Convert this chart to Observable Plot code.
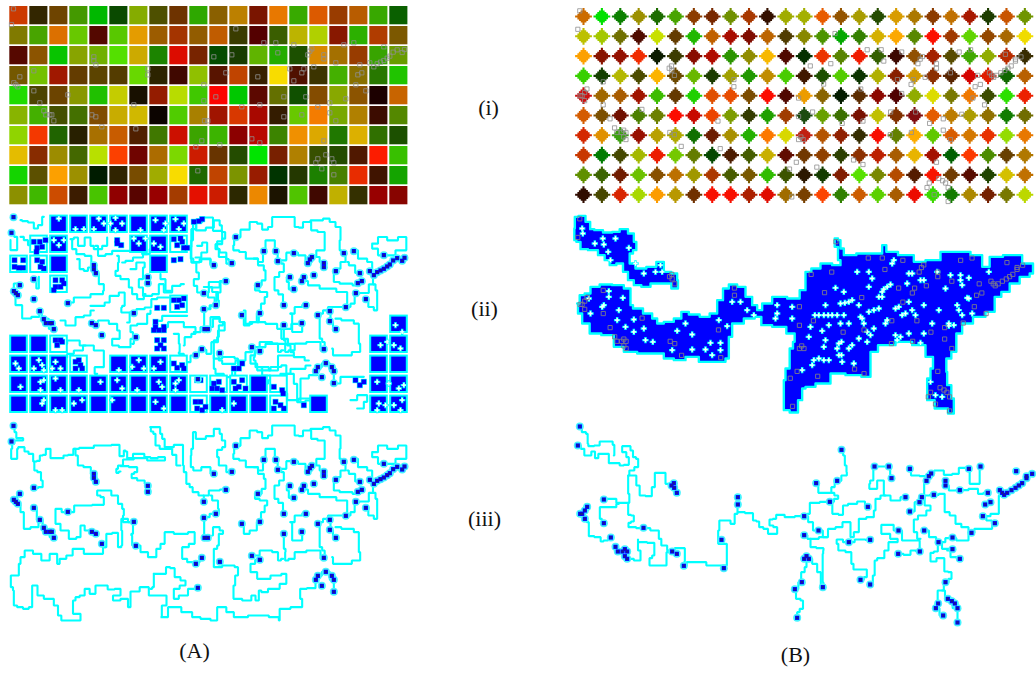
<!DOCTYPE html>
<html><head><meta charset="utf-8">
<style>html,body{margin:0;padding:0;background:#fff}svg{display:block}</style>
<script src="https://cdn.jsdelivr.net/npm/d3@7"></script>
<script src="https://cdn.jsdelivr.net/npm/@observablehq/plot@0.6"></script>
</head><body><script>
const heatA = [
"cc3a00 332600 6e4400 449900 00b800 0a4a00 85ac00 4e5000 6e3300 2ea800 8a6000 bc8000 7a1500 e87800 38aa00 dc5a00 993c00 b85c00 38a800 0a6000",
"807a00 48a400 dc7000 68c800 540800 58c800 e49c00 9c5c00 a43400 925c00 c05c00 3a3c00 540000 3a5e00 bcb400 b0d000 881800 2cb000 b03c00 7c5800",
"560800 8c5400 08c400 88a400 70b000 54e000 ccaa00 1c8400 dc0c00 782400 044c00 183c00 60b400 24ac00 1c5000 d88800 a47000 983c00 38a400 689c00",
"745800 74c000 a01800 643c00 5c4400 543c00 68d800 2c2400 400800 90c000 581400 c04400 382000 f8dc00 501000 3c3400 44b000 887000 287800 20c400",
"20dc00 4c4400 6c4400 889800 20c000 c4cc00 181000 941c00 b8dc00 40c800 fc0400 00c800 5c0800 647000 105000 844c00 88a800 8c5400 1c0000 c86400",
"88b400 44b000 445000 447000 804c00 c8ac00 d0b800 0c0400 50cc00 a88000 a01400 d83800 a80800 341c00 68c800 f47c00 78a800 b08000 3c0c00 548800",
"90d400 f43800 206400 282000 a87000 c85c00 502000 407800 cc1000 3ca400 3cb400 8c0000 b80800 3c8400 f09000 dca800 207800 dcb000 307000 1c5000",
"e4bc00 882c00 9c8c00 446800 b8e000 fc4000 700400 ac6c00 7cd800 cc1c00 683400 244c00 00e400 782000 b08000 385000 244c00 501800 fc1c00 38c000",
"14d400 5c5000 fca000 9c9000 001c00 302400 784c00 a0ac00 f8dc00 206800 c04400 7c9400 981c00 003400 243800 1c8000 488000 e82c00 401400 14a400",
"8c9000 40b800 cc4c00 3c1c00 48c400 900000 580400 980000 a43c00 e41000 cc1c00 2c2800 ec8800 1c1400 50c400 400800 c0b000 343000 980000 880400"];
const heatB = [
"cc6c00 00e000 0c8000 9c9000 1c6c00 48a400 8c3c00 782800 709000 a83800 341000 a0ac00 a4b000 e85c00 945400 a89c00 244c00 d89c00 ac7800 8c3c00 c07000 a81800 1c3c00 c85400 709400",
"bcc000 a4c800 707000 500c00 c8e000 643c00 20b800 c06000 a80c00 800c00 bc6400 503c00 888800 4c9400 04a800 348000 d4b000 fca800 588800 fc1000 a03800 60d400 944800 a86800 f0dc00",
"fca000 881400 941000 f02c00 0c1c00 3c3c00 880c00 b00c00 2c9400 908c00 f8b800 500800 043000 ec3400 588400 f01c00 346000 3c0800 905000 a42000 584c00 40a800 90ac00 b82c00 382c00",
"38d000 144000 b4b800 4c4c00 fcb400 6c4800 68b800 1c3c00 a0a000 209800 c08c00 48cc00 401800 1c5000 54cc00 0c3400 b0b000 882000 d09800 8c3000 582400 d40400 e01c00 106800 b86000",
"cc1010 a06800 a85c00 a01400 3cbc00 643800 20d000 e05000 e84c00 7c4c00 fc0c00 500800 ec9c00 886400 041c00 5c2c00 8c0800 500000 90ac00 dcdc00 787800 f07800 3c4c00 2ce000 ec2000",
"d45c00 7c5000 701000 4c8000 6c8000 fc0c00 c80800 ec4400 7c9c00 343c00 20a000 a03c00 1c4c10 68a000 3c7000 781000 c0c000 803000 800c10 e45c00 bc7c00 ac9c00 907000 107c00 706c00",
"d42800 e09000 3ca010 981000 b8a000 b0a800 107000 6c1c00 a89000 24b000 fc7800 d8d800 c02010 b45400 902000 342c00 f80c00 648000 fcac00 60c800 d85c00 d47800 e83000 94dc00 e87800",
"c83800 007c00 444800 a4b800 ec1c00 74c800 647c00 044800 4c1c00 445c00 c8b000 600c00 703800 904000 2c4000 8c3000 bc2000 a85c00 e8b400 a41000 006000 fc3800 4c8c00 684000 b07800",
"609000 3c6400 701c00 6cc000 885000 bc7000 a09800 ac3800 485c00 785800 30bc00 3c5400 2c1800 143c00 801c00 58e000 788800 b44c00 541c00 f81400 703c00 580c00 204400 d4c000 c07000",
"300c00 484800 d82400 a8d800 fc9c00 b89800 703000 f81000 f81000 ac2000 e00c00 a06c00 784000 fc4400 308000 cc5c00 5cd000 a85c00 ec0c00 3cd800 147c00 ac8800 742000 787800 bcd800"];

// marked points, read at 3x from panel (i) of A
const ptsA = "39,25 33,72 706,85 790,127 826,127 880,133 1030,133 1060,127 1150,139 934,145 928,152 922,163 970,163 970,175 832,157 694,163 640,169 280,169 280,181 286,193 1006,187 1078,193 1108,187 1120,199 1130,190 1140,185 1150,180 1160,173 1168,167 1178,155 1190,148 1205,156 1212,147 100,211 58,229 40,247 46,253 52,259 442,205 442,223 676,217 772,229 868,205 910,205 904,217 940,199 1084,217 1072,223 880,241 610,253 1066,253 100,271 1096,271 202,283 646,289 850,289 916,289 610,301 1036,295 988,307 118,307 400,313 724,319 778,313 952,319 130,331 136,343 154,343 160,361 148,343 274,343 286,349 904,343 850,349 988,337 1006,361 612,361 622,361 304,379 406,385 754,415 778,427 604,421 586,439 658,433 970,421 976,463 994,475 952,475 946,487 1000,487 964,505 1000,523 592,511";
// marked points, read at 3x from panel (iii) of B
const ptsB = "43,33 37,90 828,103 927,153 970,153 1033,160 1097,174 1090,182 1083,196 1140,196 1140,210 1210,160 1245,153 1352,167 978,188 815,196 752,203 1400,175 1383,182 1383,188 1370,203 1360,210 1350,217 1338,224 1325,232 1316,238 1303,224 1310,232 325,203 318,210 326,217 334,232 1183,224 1267,232 1020,245 1105,238 1069,245 517,245 517,267 115,252 793,259 1062,260 907,274 65,274 58,285 44,295 50,295 58,310 1259,267 1275,260 1033,288 1252,302 716,302 115,323 1288,323 234,337 999,345 759,345 1076,345 1218,352 716,359 136,366 1161,366 468,373 1119,380 850,380 914,373 150,394 157,408 171,408 178,401 185,408 178,422 185,430 320,408 334,415 1063,408 998,415 1161,401 1183,430 355,451 475,458 723,422 716,430 730,430 885,493 914,507 1140,500 709,500 772,515 688,521 1147,550 1118,564 1159,557 1168,564 1176,578 1111,578 1133,600 1176,621 695,607";

// cyan trees of A shared by (ii) and (iii), in the (iii) crop
const treeAshared = [
"580,50 575,100 570,120 572,155 585,165 620,155 640,175","580,50 592,70 640,62 640,40 655,40 660,55 668,75 680,95 650,103 650,125 660,150 695,170",
"610,240 640,225 676,222","630,240 640,255 665,280 645,295 610,305 612,365",
"705,91 735,68 760,45 780,50 790,68 815,60 815,30 880,30 885,60 905,62 910,45 950,40 985,35 990,45 1020,60 1020,100 1015,130 1030,138",
"932,45 932,70 970,75 975,120 970,130 950,130 945,150 970,165","705,91 697,115 700,130 732,135 740,155 760,155 785,165 790,135",
"790,130 800,100 818,100 828,130 835,165 850,170 850,195 822,210 822,250 845,262 850,290","835,160 880,137 905,145 925,165 935,150",
"760,155 785,175 795,190 795,220 772,235 755,250 800,255 800,270 785,290 778,320 760,345 735,355 725,325",
"868,210 850,225 880,247","905,222 940,235 975,245 1040,255 1040,300 1060,290 1065,260 1090,258 1120,232 1130,250 1130,310 1110,300 1097,275",
"1115,110 1150,90 1170,100 1215,90 1220,130 1150,145 1115,125 1115,110","1060,130 1085,155 1115,165 1115,195 1120,232",
"1030,138 1040,165 1000,185 1005,192 995,225 1040,230 1072,235","1078,198 1050,175 1040,165",
"1036,300 990,300 975,310 960,320 955,395 975,405 970,430","990,315 990,345 1005,370","1005,335 1040,340 1080,350 1070,410 1088,435 1020,445 1000,445 995,425",
"870,320 880,375 905,375 905,348","870,320 895,300 916,293","850,355 850,400 860,410 848,435 880,430 885,410 950,405 970,430",
"755,420 800,405 830,410 835,435 848,430","778,433 750,445 750,470 790,490 830,480 855,475 860,505 815,520 790,530 775,525 775,555 755,540 750,555 700,550 698,510 710,480 715,455 690,450 640,455 640,400 660,390 650,375 660,355 675,345 640,335 635,360",
"952,481 976,469 1000,493 1000,529","946,493 952,481"
];
// cyan trees of A only in (iii)
const treeAiii = [
"39,31 45,50 50,68 68,68 68,75 45,75 38,85 32,100 32,130 50,130 50,100 56,95 72,95 72,108 96,115 100,138 118,136 118,120 136,118 136,100 150,100 150,128 188,128 190,120 215,118 222,100 250,97 310,90 356,88 358,122 370,122 370,105 380,108 380,128 415,115 448,125 452,128 492,125 495,135 455,135 425,128 375,132 360,150 345,160 350,172 360,168",
"222,100 228,120 236,150 262,155 280,175 280,187 286,199","100,138 103,165 118,170 125,195 128,215 100,217","360,152 410,155 410,170 392,175 395,188 425,195 440,205 442,230",
"450,35 478,35 480,55 490,70 495,95 545,88 550,120 545,150 555,170 560,205 575,215 578,230 610,240 610,260","450,35 452,48 465,55 465,90 490,100 515,100 515,118 540,150",
"400,320 395,355 390,360 400,390 440,410 445,425 465,425 470,400 490,385 495,350 545,355 580,350 585,385 545,395 545,430 575,440 587,445","605,428 590,440",
"400,320 365,310 360,345 370,390 355,395 350,352 320,355 315,395 304,385","315,395 300,415 260,415 240,400 218,400 215,420 180,430 175,445 165,415 130,435 115,415 80,405 65,425 55,445 55,480 32,480 30,515 45,525 35,570 65,575 70,580 100,575 90,530 100,510 112,510 110,540 150,550 170,570 175,600 190,615 240,615 240,595 210,595 225,555 225,545 250,540 255,520 280,535 290,510 318,510 325,522 360,520 360,540 335,540 340,555 380,550 385,575 395,528 440,515 450,540 498,540 498,570 470,605 490,605 515,575 570,590 580,605 620,610 640,615 660,575 695,590 705,605 780,600 830,605 840,615 835,580 905,575 905,550 893,520 945,518 945,495",
"460,475 495,475 498,455 520,458 525,485 555,495 555,510 520,520 520,550 550,540 575,520 592,518","460,475 460,515 450,520",
"202,290 165,280 165,325 195,345 215,370 240,365 240,330 265,345 286,355","202,290 240,270 310,268 310,245 290,240 290,225 310,225 355,240 350,265 380,280 360,300 375,320 400,320",
"60,235 40,255 50,268 70,290 70,340 110,335 118,313 100,277","118,313 135,345 160,365 154,349"
];
// cyan trees of A only in (ii), in the whole-panel (ii) crop
const treeAii = [
"60,35 70,38 95,42 105,60 120,50 130,25","32,75 50,85 50,125 30,125 30,95","60,85 80,95 85,110","100,217 115,240 115,205","50,225 30,250 60,290 70,330 115,325 118,307","118,307 130,331 160,361",
"1000,525 1040,505 1090,505","1050,575 1090,560 1110,580 1070,600","900,575 900,510 950,500","860,555 860,575 930,570"
];
// more of (ii), from the crop with its corner at (60,212)
const treeAiiTop = [
"30,80 50,75 55,100 90,75 90,100 110,110 140,100 140,75","35,80 35,110 60,125 85,130 100,160 105,185 125,215 135,235 120,245 60,255 20,270","50,140 65,170 75,175 90,165",
"105,100 120,130 150,125 160,115 230,115 260,125","170,130 180,150 165,175 165,190 195,200 215,225 215,245 245,260 255,245","185,150 205,145 230,135 265,125 270,110",
"210,170 245,150 260,165 235,200 235,225 260,250 290,245 300,215 320,240 350,220 370,215","300,185 300,200 330,235","395,50 390,100 395,150 420,180 410,200 390,220 430,240 460,225 495,207","395,150 440,140 460,155",
"400,50 415,30 435,15 480,55 490,95 470,95 460,110 495,120 500,140 510,145","410,100 440,90 440,120 405,135","430,240 455,255 470,280 430,290","495,207 465,240 470,280",
"90,280 130,280 135,270 160,250 190,240 195,280 175,285 190,300 215,300 240,290 265,285 280,260 300,255 325,255","215,300 200,330","280,325 330,310 380,310"
];
// more of (ii), from the crop with its corner at (60,310)
const treeAiiLow = [
"0,30 30,45 60,20 80,15 100,0","95,40 130,30 160,40 180,60 175,85 155,85 155,105 195,110 225,85 210,65 210,45 250,40 270,10 270,0","225,80 215,100","305,50 340,35 400,50 410,70 375,80 370,105","340,70 370,100 345,125 365,130 375,155 405,135","405,135 425,118 450,130 455,95 490,60 495,35 460,20 440,50 400,65",
"0,100 40,90 75,105 125,120 135,150 125,170 95,170 110,190","75,105 60,120 20,130 20,140","480,130 470,150 500,160 550,150 560,125 590,110 640,100 660,100 700,105 680,125 720,140 745,150","575,115 590,140 570,150 600,170 650,180 655,135 700,135","460,135 460,175 470,190 510,200 520,180","600,170 610,195 650,210 660,235 640,225","680,190 720,220 700,260 720,275 750,270","550,0 560,40 590,35 600,10","590,35 640,40 660,55 665,85 700,100","660,55 725,40","660,190 720,175 750,165"
];

// cells of A filled in (ii): "column,row"
const fullA = "2,0 3,0 4,0 5,0 6,0 7,0 8,0 2,1 6,1 7,1 2,2 7,2 19,5 0,6 1,6 18,6 19,6 0,7 1,7 2,7 5,7 6,7 7,7 18,7 19,7 0,8 1,8 2,8 3,8 4,8 5,8 6,8 7,8 8,8 12,8 18,8 19,8 0,9 1,9 2,9 3,9 4,9 5,9 6,9 7,9 8,9 10,9 11,9 12,9 15,9 18,9 19,9";
const outlineA = "9,8 10,8 11,8 13,8 9,9 13,9 1,1 0,2 1,2 2,3 8,1 8,4 3,7 2,6 8,7";
const blobsA = "580,40 595,38 605,32 100,100 118,100 135,95 110,118 125,115 108,130 350,95 362,110 350,105 520,92 545,100 530,110 550,118 560,118 540,90 42,155 68,155 42,175 68,178 55,178 110,155 125,160 120,175 130,180 520,155 540,152 165,215 185,215 165,235 180,235 190,225 160,245 520,275 535,275 550,270 545,290 530,295 470,298 490,298 465,340 465,355 490,355 490,365 475,365 460,365 470,395 490,395 480,410 470,420 490,420 225,460 235,455 240,470 225,480 245,480 520,465 530,478 545,470 550,480 590,515 600,515 640,525 655,520 650,540 635,540 665,545 700,520 715,535 725,515 735,540 705,540 820,535 845,545 848,555 1065,515 1090,520 1078,530 585,580 600,580 615,595 590,600 605,605 825,580 840,590 850,600 820,600 700,480 725,465 715,480 165,395 180,395 170,410 185,400 910,590";
const holesA = "175,30 225,62 250,62 295,30 280,62 310,45 345,28 345,65 330,45 365,45 420,65 465,35 495,45 490,65 525,32 550,45 535,62 175,110 160,95 190,95 415,105 435,90 400,90 480,115 460,105 45,465 55,480 115,455 125,470 100,480 130,485 165,460 180,480 155,480 355,485 415,455 395,475 430,480 480,460 460,480 60,535 120,520 130,515 120,545 180,545 165,510 235,545 300,520 350,515 365,540 410,545 475,520 485,535 525,525 535,515 525,545 130,575 125,585 165,605 185,605 220,585 245,575 335,575 465,580 490,600 700,585 665,605 1140,410 1160,400 1180,410 1200,420 1130,520 1165,525 1195,540 1210,530 1135,585 1155,590 1205,575 1180,590 1200,605 1130,605 1185,350 1205,370";

// region of B in (ii)
const regionsB = [
"28,25 50,22 70,40 78,62 95,65 130,72 150,70 175,62 200,75 210,100 215,125 190,135 195,165 225,180 260,175 285,160 305,190 330,195 340,215 335,240 300,225 270,225 240,235 215,230 195,215 180,190 165,165 140,170 125,155 110,140 85,125 50,122 40,100 25,95 28,60 28,25",
"35,285 50,260 65,255 85,235 120,228 160,230 190,240 200,260 190,290 215,300 250,315 270,330 280,345 310,340 340,330 355,310 385,318 420,325 445,315 465,275 480,240 500,228 530,235 550,265 570,290 580,305 600,285 640,265 690,270 715,245 725,190 750,180 780,165 820,170 830,155 805,115 810,90 825,95 825,120 845,140 900,135 940,135 960,110 965,130 1030,140 1060,160 1100,155 1150,130 1190,130 1240,140 1260,175 1285,145 1340,140 1400,165 1405,195 1380,205 1345,225 1320,250 1295,265 1280,310 1240,325 1205,345 1175,375 1170,430 1145,450 1140,490 1150,530 1165,570 1165,615 1130,600 1085,575 1085,510 1105,480 1100,445 1060,410 1020,400 960,410 915,430 915,505 860,500 820,495 770,525 730,535 710,540 710,575 685,612 660,605 650,515 670,480 675,420 690,400 685,375 640,355 600,350 575,325 560,330 510,345 490,385 490,450 470,460 420,460 380,445 340,455 310,450 280,435 240,435 190,430 160,415 130,380 85,375 60,345 40,315 35,285"];
const holesB = "50,60 52,75 88,105 112,90 115,108 150,90 128,130 135,155 190,118 210,165 235,195 285,170 270,190 290,190 130,248 130,265 70,270 172,268 115,290 75,315 110,295 160,305 155,335 205,333 180,355 205,370 240,395 262,400 235,360 335,367 360,345 380,378 320,425 380,423 420,423 435,403 465,403 465,425 440,440 485,353 460,335 500,280 525,280 545,305 565,320 635,290 635,315 680,295 680,330 630,330 735,355 730,385 770,367 780,290 835,250 810,238 875,190 910,190 920,210 910,235 965,235 940,265 880,290 850,280 825,285 775,320 760,320 800,320 835,320 885,325 910,310 940,300 990,300 1010,320 965,335 925,360 895,345 850,345 825,345 790,350 915,380 880,390 850,420 820,405 780,395 775,415 828,440 830,460 865,465 775,455 745,455 740,470 710,485 905,400 980,165 1030,195 1065,215 1025,225 1115,190 1155,200 1185,200 1210,208 1140,240 1190,230 1210,270 1175,290 1190,320 1220,315 1120,305 1075,290 1050,320 1030,280 950,250 1100,345 1075,375 1030,375 1005,385 1065,403 1150,345 990,380 1270,190 1110,560 1130,565 1095,520 1165,350 748,320 788,320 815,320 838,283 860,275 955,242 975,228 1000,295 1020,315 960,345 995,395 1185,215 1075,215 1040,305 1205,268 1180,305 1150,352 1040,195 985,155 950,265 925,305 890,330 905,370 828,400 815,420 820,440 860,410 760,450 790,455";

// cyan trees of B in (iii)
const treeB = [
"43,33 55,50 68,55 65,85 72,92 100,90 105,78 135,78 148,88 145,120","37,90 55,100 58,120 70,120 85,108 92,128 105,115 130,115 130,143 160,143 165,150 185,148 195,125 170,110 170,92 190,92 200,105 205,125 218,130 218,155 195,165 188,180 188,235 195,235 188,262 155,262 150,250 115,250",
"188,262 188,298 205,300 205,318 188,322 190,335 234,338 275,345 285,370 290,390 320,405","320,408 335,398 358,398 358,438 355,451","188,180 210,180 215,210 230,240 250,242 268,215 268,172 295,172 305,205 325,208",
"65,274 50,300 58,310 70,320 70,362 103,365 108,378 120,375 136,366","115,323 103,310 103,275 145,275 160,265","185,430 225,435 225,405 210,370 225,380 265,382 268,420 252,428 252,450 303,450 303,410 320,408",
"355,451 372,440 420,440 425,450 480,450 488,400 480,385 458,385 458,345 465,315 490,315 500,325 515,295 517,267 517,245","517,290 560,293 565,315 580,318 582,335 605,340 610,355 635,355 635,335 612,330 612,312 632,310 632,298 655,298 660,305 716,302 733,295 733,262 793,259 818,250 818,240 795,232 800,215 815,196",
"752,203 765,232 795,232","815,196 840,180 848,170 838,150 838,120 828,103","793,259 808,295 830,298 835,270 860,265 890,258 907,274","716,302 740,320 745,345 759,345 785,365 790,340 830,335 832,320 855,320 855,365 875,350 885,310 920,305 930,285 930,250 960,240 990,255 1020,245",
"716,359 735,370 785,365","735,370 735,395 770,398 778,405 768,415 775,500 772,515","850,380 815,372 812,385 825,405 855,410 860,445 868,462 903,462 905,485 885,493","914,373 885,372 850,380",
"914,507 930,480 925,435 945,428 968,405 970,380 995,380 998,370 950,355 945,328 970,328 999,345 1020,375 1060,375 1065,408","998,415 1030,418 1040,405 1063,408",
"1065,370 1045,350 1045,312 1070,300 1095,285 1095,270 1075,270 1080,240 1105,238 1135,235 1140,290 1165,300 1175,325 1200,335 1218,352 1235,340 1272,340 1288,323 1270,315 1255,302 1295,295 1305,240",
"1076,345 1105,365 1119,380 1160,368 1185,375 1200,375 1218,352","1119,380 1115,408 1095,412 1095,438 1113,438 1113,428 1135,428 1138,468 1158,470 1158,490 1140,500 1130,525 1115,525 1118,564 1111,578 1133,600","1130,525 1147,550 1176,578 1176,621","1119,380 1140,400 1161,401","1145,405 1165,425 1183,430",
"709,500 705,470 730,455 716,430","688,521 709,500","688,521 695,550 715,555 710,580 695,590 695,607","730,430 750,445 760,470 772,515",
"927,153 920,195 908,205 915,220 930,220 940,195 950,195 960,240","927,153 970,153 978,188","1033,160 1040,180 1085,182 1097,174 1115,165 1130,165 1140,178 1180,175 1180,157 1210,157 1215,205 1240,205 1245,153",
"1140,210 1160,225 1183,224 1235,220 1240,235 1267,232","1083,196 1069,245 1062,260 1033,288"
];
const panelLabels = [["(i)",488,107],["(ii)",484,308],["(iii)",484,518],["(A)",194,650],["(B)",795,654]];

const pairs = s => s.trim().split(/\s+/).map(p => p.split(",").map(Number));
// crop-to-page mappings, one per crop the coordinates were read from
const toA = dy => ([x,y]) => ({x:x/3, y:dy+y/3});
const toCrop = (ox,oy) => ([x,y]) => ({x:ox+x/3, y:oy+y/3});
const toBi = ([x,y]) => ({x:565+(37+(x-37)*.9754)/3, y:(31+(y-33)*.9728)/3});
const toBii = ([x,y]) => ({x:565+(37+(x-37)*.979)/3, y:208+(31+(y-33)*.98)/3});
const toBiii = ([x,y]) => ({x:565+x/3, y:415+y/3});
const polyRows = (list, f) => list.flatMap((s,id) => pairs(s).map(p => ({...f(p), id})));

const cellsA = heatA.flatMap((r,j) => r.split(" ").map((c,i) => ({x1:9.3+20*i, x2:27.4+20*i, y1:6+20*j, y2:24.3+20*j, c:"#"+c})));
const diamonds = heatB.flatMap((r,j) => r.split(" ").map((c,i) => ({x:583+18.39*i, y:16+19.8*j, c:"#"+c})));
const cellBox = ([c,r]) => ({x1:10.2+20*c, x2:26.8+20*c, y1:215.6+20*r, y2:232+20*r});
const filled = pairs(fullA).map(cellBox), outlined = pairs(outlineA).map(cellBox);

const A1 = pairs(ptsA).map(toA(0)), A2 = pairs(ptsA).map(toA(208.3)), A3 = pairs(ptsA).map(toA(417));
const B1 = pairs(ptsB).map(toBi), B2 = pairs(ptsB).map(toBii), B3 = pairs(ptsB).map(toBiii);

const stair = {draw(ctx, size){
  const k = Math.sqrt(size/Math.PI)/8;
  const s = [[8,1],[5.8,2.6],[4.4,4.2],[2.8,5.8],[1,8]];
  const pts = [[8,0]];
  s.forEach(([a,b],i) => {pts.push([a,b]); if (s[i+1]) pts.push([s[i+1][0],b]);});
  pts.push([0,8]);
  const quad = [...pts, ...pts.map(([x,y])=>[-y,x]).slice(1), ...pts.map(([x,y])=>[-x,-y]).slice(1), ...pts.map(([x,y])=>[y,-x]).slice(1)];
  quad.forEach(([x,y],i) => i ? ctx.lineTo(x*k,y*k) : ctx.moveTo(x*k,y*k));
  ctx.closePath();
}};
const sq = {draw(ctx, size){const h = Math.sqrt(size/Math.PI); ctx.moveTo(-h,-h);ctx.lineTo(h,-h);ctx.lineTo(h,h);ctx.lineTo(-h,h);ctx.closePath();}};

const grey = d => Plot.dot(d,{x:"x",y:"y",symbol:sq,r:2.1,fill:"none",stroke:"#8f8f8f",strokeWidth:.8});
const marked = d => [
  Plot.dot(d,{x:"x",y:"y",r:4,fill:"#45f3ff",stroke:"none"}),
  Plot.dot(d,{x:"x",y:"y",symbol:sq,r:2.1,fill:"#0000ff",stroke:"none"}),
  Plot.dot(d,{x:"x",y:"y",symbol:sq,r:1.2,fill:"#1a1a90",stroke:"none"})
];
const tree = rows => Plot.line(rows,{x:"x",y:"y",z:"id",curve:"step",stroke:"#00ffff",strokeWidth:2.1,strokeLinejoin:"miter"});
const plusMarks = rows => [
  Plot.dot(rows,{x:"x",y:"y",symbol:"plus",r:2.2,stroke:"#00ffff",strokeWidth:2.4}),
  Plot.dot(rows,{x:"x",y:"y",symbol:"plus",r:1.5,stroke:"#fff",strokeWidth:1.3})
];

const toBiiCrop = toCrop(565,208);
const plot = Plot.plot({
  width:1036, height:673, margin:0,
  x:{domain:[0,1036], axis:null},
  y:{domain:[673,0], axis:null},
  style:{background:"#fff"},
  marks:[
    Plot.rect(cellsA,{x1:"x1",x2:"x2",y1:"y1",y2:"y2",fill:"c"}),
    grey(A1),
    Plot.dot(diamonds,{x:"x",y:"y",symbol:stair,r:8.4,fill:"c",stroke:"none"}),
    grey(B1),

    tree(polyRows(treeAii,toA(208))),
    tree(polyRows(treeAiiTop,toCrop(60,212))),
    tree(polyRows(treeAiiLow,toCrop(60,310))),
    tree(polyRows(treeAshared,toA(206.5))),
    Plot.rect(outlined,{x1:"x1",x2:"x2",y1:"y1",y2:"y2",fill:"#fff",stroke:"#00ffff",strokeWidth:2}),
    Plot.rect(filled,{x1:"x1",x2:"x2",y1:"y1",y2:"y2",fill:"#0000ff",stroke:"#00ffff",strokeWidth:2}),
    Plot.dot(pairs(blobsA).map(toA(208)),{x:"x",y:"y",symbol:sq,r:3,fill:"#00ffff"}),
    Plot.dot(pairs(blobsA).map(toA(208)),{x:"x",y:"y",symbol:sq,r:2.4,fill:"#0000ff"}),
    ...plusMarks(pairs(holesA).map(toA(208))),
    ...marked(A2),

    Plot.line(polyRows(regionsB,toBiiCrop),{x:"x",y:"y",z:"id",curve:"step",fill:"#0000ff",stroke:"#00ffff",strokeWidth:2.4}),
    ...plusMarks(pairs(holesB).map(toBiiCrop)),
    Plot.dot(B2,{x:"x",y:"y",symbol:sq,r:2.1,fill:"none",stroke:"#7a7a8a",strokeWidth:.9}),

    tree(polyRows([...treeAshared,...treeAiii],toA(415))),
    ...marked(A3),
    tree(polyRows(treeB,toBiii)),
    ...marked(B3),

    Plot.text(panelLabels,{x:"1",y:"2",text:"0",fontFamily:"'Liberation Serif', serif",fontSize:22,fill:"#111"})
  ]
});
document.body.appendChild(plot);
</script></body></html>
